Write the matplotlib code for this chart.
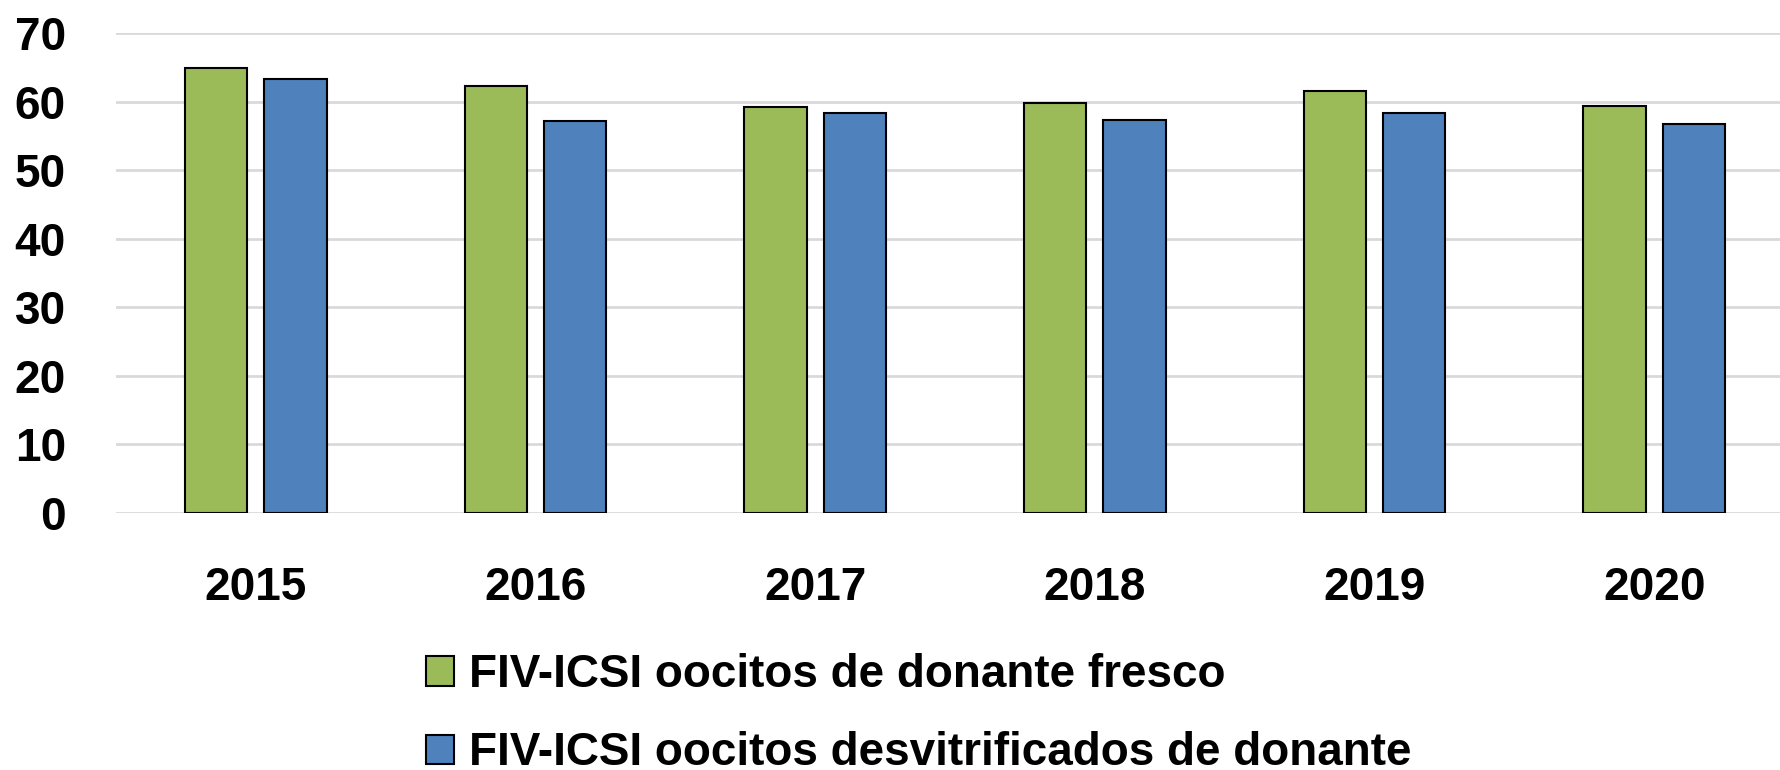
import matplotlib
matplotlib.use("Agg")
import matplotlib.pyplot as plt
import numpy as np

years = ["2015", "2016", "2017", "2018", "2019", "2020"]
fresco = [64.9, 62.2, 59.15, 59.8, 61.6, 59.4]
desvit = [63.3, 57.2, 58.4, 57.25, 58.3, 56.8]
labels = ["FIV-ICSI oocitos de donante fresco",
          "FIV-ICSI oocitos desvitrificados de donante"]
yticks = [0, 10, 20, 30, 40, 50, 60, 70]

plt.rcParams['font.family'] = ['Liberation Sans', 'DejaVu Sans']
plt.rcParams['font.weight'] = 'bold'

W, H = 1781, 770
fig = plt.figure(figsize=(W / 100, H / 100), dpi=100)
left, right = 116, 1781
top, bottom = 33, 513
ax = fig.add_axes([left / W, 1 - bottom / H, (right - left) / W, (bottom - top) / H])

x = np.arange(len(years))
bw = 0.2235
off = 0.142
c1, c2 = "#9BBB59", "#4F81BD"
b1 = ax.bar(x - off, fresco, bw, color=c1, edgecolor="black", linewidth=1.5, zorder=3, label=labels[0])
b2 = ax.bar(x + off, desvit, bw, color=c2, edgecolor="black", linewidth=1.5, zorder=3, label=labels[1])

FS = 33
ax.set_ylim(0, 70)
ax.set_xlim(-0.5, 5.5 - (1794 - 1781) / 279.6)
ax.set_yticks(yticks)
ax.yaxis.grid(True, color="#D9D9D9", linewidth=2, zorder=0)
ax.set_axisbelow(True)
for s in ax.spines.values():
    s.set_visible(False)
ax.tick_params(axis="both", length=0, labelsize=FS)
ax.tick_params(axis="y", pad=36)
ax.tick_params(axis="x", pad=38)
ax.set_xticks(x)
ax.set_xticklabels(years, fontweight="bold")
for t in ax.get_yticklabels():
    t.set_fontweight("bold")
    t.set_horizontalalignment("right")

leg = fig.legend(handles=[b1, b2], labels=labels, loc="upper left",
                 bbox_to_anchor=(426 / W, 1 - 653 / H), frameon=False,
                 fontsize=FS, handlelength=0.61, handleheight=0.61,
                 handletextpad=0.33, labelspacing=0.75, borderpad=0, borderaxespad=0)
for t in leg.get_texts():
    t.set_fontweight("bold")

fig.savefig("out.png", dpi=100)
